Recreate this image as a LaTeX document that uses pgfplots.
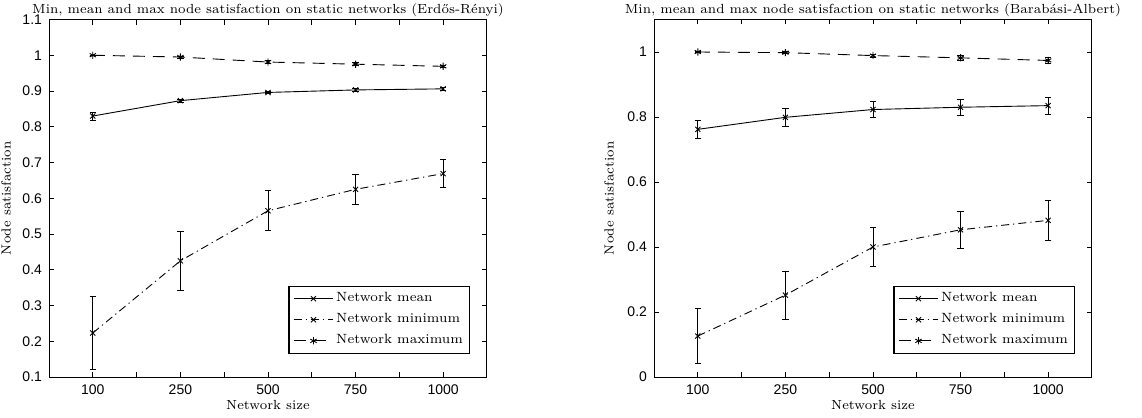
\documentclass[border=0pt]{standalone}
\usepackage{fontspec}
\usepackage{pgfplots}
\pgfplotsset{compat=1.18}
\newfontfamily\tickfont{Liberation Sans}
\pgfplotsset{
  common/.style={
    scale only axis, width=219pt, height=178.75pt,
    xmin=0.5, xmax=5.5,
    xtick={1,2,3,4,5}, xticklabels={100,250,500,750,1000},
    minor xtick={1.5,2.5,3.5,4.5},
    major tick length=2.5pt, minor tick length=2.5pt,
    tick align=inside,
    tick style={black, line width=0.4pt},
    axis line style={line width=0.5pt},
    tick label style={font=\tickfont\fontsize{7}{8}\selectfont},
    /pgf/number format/assume math mode=true,
    xtick pos=both, ytick pos=both,
    xticklabel style={yshift=-0.5pt},
    label style={font=\fontsize{6.6}{8}\selectfont},
    title style={font=\fontsize{6.6}{8}\selectfont, yshift=-8pt},
    xlabel={Network size}, ylabel={Node satisfaction},
    xlabel style={yshift=4pt},
    legend style={font=\fontsize{6.7}{8}\selectfont, draw=black, line width=0.6pt,
      at={(1,0)}, anchor=south east, xshift=-8.5pt, yshift=11.5pt,
      row sep=2pt, inner sep=2pt, nodes={inner sep=1.2pt}},
    legend cell align=left,
    legend image code/.code={\draw[mark repeat=2,mark phase=2,#1] plot coordinates {(0cm,0cm) (0.35cm,0cm) (0.7cm,0cm)};},
  },
  meanst/.style={black, line width=0.45pt, mark=x, mark size=1.8pt, mark options={solid, line width=0.45pt},
    error bars/.cd, y dir=both, y explicit, error bar style={black, solid, line width=0.45pt}, error mark options={black, solid, rotate=90, mark size=1.6pt}},
  minst/.style={black, line width=0.45pt, dash pattern=on 4pt off 2pt on 0.6pt off 2pt, mark=x, mark size=1.8pt, mark options={solid, line width=0.45pt},
    error bars/.cd, y dir=both, y explicit, error bar style={black, solid, line width=0.45pt}, error mark options={black, solid, rotate=90, mark size=1.6pt}},
  maxst/.style={black, line width=0.45pt, dash pattern=on 6pt off 4pt, mark=asterisk, mark size=1.8pt, mark options={solid, line width=0.45pt},
    error bars/.cd, y dir=both, y explicit, error bar style={black, solid, line width=0.45pt}, error mark options={black, solid, rotate=90, mark size=1.6pt}},
}
\begin{document}
\begin{tikzpicture}
\path[use as bounding box] (0,0) rectangle (571pt,209pt);
\begin{axis}[common, at={(24.5pt,20.5pt)}, anchor=south west,
  ymin=0.1, ymax=1.1,
  ytick={0.1,0.2,0.3,0.4,0.5,0.6,0.7,0.8,0.9,1,1.1},
  yticklabels={0.1,0.2,0.3,0.4,0.5,0.6,0.7,0.8,0.9,1,1.1},
  ylabel style={yshift=-1pt},
  title={Min, mean and max node satisfaction on static networks (Erdős-Rényi)}]
\addplot[meanst] coordinates {
 (1,0.830) +- (0,0.011)
 (2,0.873) +- (0,0.004)
 (3,0.896) +- (0,0.003)
 (4,0.903) +- (0,0.003)
 (5,0.906) +- (0,0.003)};
\addlegendentry{Network mean}
\addplot[minst] coordinates {
 (1,0.223) +- (0,0.102)
 (2,0.425) +- (0,0.083)
 (3,0.565) +- (0,0.056)
 (4,0.625) +- (0,0.041)
 (5,0.669) +- (0,0.040)};
\addlegendentry{Network minimum}
\addplot[maxst] coordinates {
 (1,1.000) +- (0,0.000)
 (2,0.995) +- (0,0.003)
 (3,0.981) +- (0,0.004)
 (4,0.975) +- (0,0.004)
 (5,0.969) +- (0,0.004)};
\addlegendentry{Network maximum}
\end{axis}
\begin{axis}[common, at={(327pt,20.5pt)}, anchor=south west,
  ymin=0, ymax=1.1,
  ytick={0,0.2,0.4,0.6,0.8,1},
  yticklabels={0,0.2,0.4,0.6,0.8,1},
  title={Min, mean and max node satisfaction on static networks (Barabási-Albert)}]
\addplot[meanst] coordinates {
 (1,0.762) +- (0,0.028)
 (2,0.799) +- (0,0.027)
 (3,0.823) +- (0,0.025)
 (4,0.830) +- (0,0.025)
 (5,0.835) +- (0,0.026)};
\addlegendentry{Network mean}
\addplot[minst] coordinates {
 (1,0.126) +- (0,0.084)
 (2,0.252) +- (0,0.074)
 (3,0.400) +- (0,0.061)
 (4,0.453) +- (0,0.057)
 (5,0.482) +- (0,0.062)};
\addlegendentry{Network minimum}
\addplot[maxst] coordinates {
 (1,1.000) +- (0,0.001)
 (2,0.998) +- (0,0.003)
 (3,0.989) +- (0,0.005)
 (4,0.982) +- (0,0.007)
 (5,0.974) +- (0,0.010)};
\addlegendentry{Network maximum}
\end{axis}
\end{tikzpicture}
\end{document}
